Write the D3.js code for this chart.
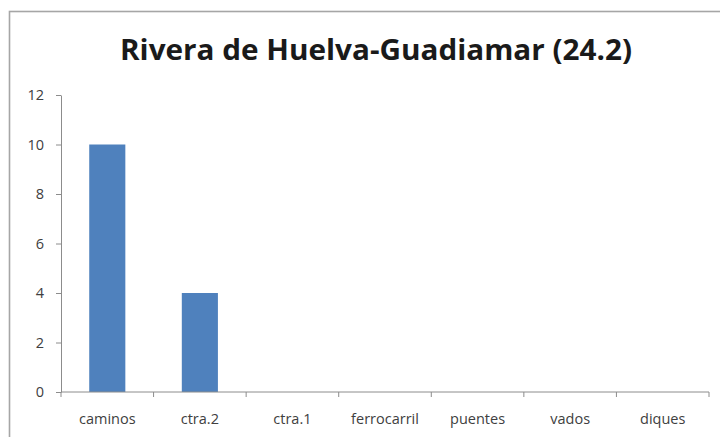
<!DOCTYPE html>
<html>
<head>
<meta charset="utf-8">
<script src="https://cdn.jsdelivr.net/npm/d3@7"></script>
<style>
  html, body { margin: 0; padding: 0; background: #fff; }
  svg { display: block; }
</style>
</head>
<body>
<svg id="chart" width="720" height="437"></svg>
<script>
// Crossings by type along the river stretch
const categories = ["caminos", "ctra.2", "ctra.1", "ferrocarril", "puentes", "vados", "diques"];
const values = [10, 4, 0, 0, 0, 0, 0];
const yTicks = [0, 2, 4, 6, 8, 10, 12];
const titleText = "Rivera de Huelva-Guadiamar (24.2)";

const svg = d3.select("#chart");
const W = 720, H = 437;
const plot = { left: 61, right: 709, top: 95, bottom: 392 };

// chart frame (open at right and bottom edges)
svg.append("rect")
  .attr("x", 9.5).attr("y", 11.5)
  .attr("width", W).attr("height", H)
  .attr("fill", "#fff")
  .attr("stroke", "#a6a6a6").attr("stroke-width", 1.6);

// title
svg.append("text")
  .attr("x", 120).attr("y", 60)
  .attr("font-family", "'Open Sans', sans-serif")
  .attr("font-weight", "bold")
  .attr("font-size", 29)
  .attr("fill", "#1a1a1a")
  .attr("textLength", 512)
  .attr("lengthAdjust", "spacingAndGlyphs")
  .text(titleText);

const x = d3.scaleBand()
  .domain(categories)
  .range([plot.left, plot.right])
  .paddingInner(0.61)
  .paddingOuter(0.305);

const y = d3.scaleLinear()
  .domain([0, 12])
  .range([plot.bottom, plot.top]);

// bars
svg.append("g").selectAll("rect")
  .data(categories.map((c, i) => ({ c, v: values[i] })))
  .join("rect")
  .attr("x", d => x(d.c))
  .attr("y", d => y(d.v))
  .attr("width", x.bandwidth())
  .attr("height", d => y(0) - y(d.v))
  .attr("fill", "#4f81bd");

const axisColor = "#8c8c8c";
const labelFont = "'Open Sans', sans-serif";
const labelSize = 14.5;

// y axis
const yAxis = svg.append("g")
  .attr("transform", `translate(${plot.left},0)`)
  .call(d3.axisLeft(y).tickValues(yTicks).tickSize(5).tickPadding(12).tickSizeOuter(0));
yAxis.select(".domain").attr("stroke", axisColor);
yAxis.selectAll(".tick line").attr("stroke", axisColor);
yAxis.selectAll(".tick text")
  .attr("font-family", labelFont).attr("font-size", labelSize).attr("fill", "#404040");

// x axis with ticks at category boundaries
const xAxis = svg.append("g")
  .attr("transform", `translate(0,${plot.bottom})`);
xAxis.append("line")
  .attr("x1", plot.left).attr("x2", plot.right)
  .attr("stroke", axisColor);
const step = x.step();
const boundaries = d3.range(categories.length + 1).map(i => plot.left + i * step);
xAxis.selectAll("line.tk")
  .data(boundaries)
  .join("line")
  .attr("class", "tk")
  .attr("x1", d => d).attr("x2", d => d)
  .attr("y1", 0).attr("y2", 5)
  .attr("stroke", axisColor);
xAxis.selectAll("text")
  .data(categories)
  .join("text")
  .attr("x", d => x(d) + x.bandwidth() / 2)
  .attr("y", 32)
  .attr("text-anchor", "middle")
  .attr("font-family", labelFont).attr("font-size", labelSize).attr("fill", "#404040")
  .text(d => d);
</script>
</body>
</html>
